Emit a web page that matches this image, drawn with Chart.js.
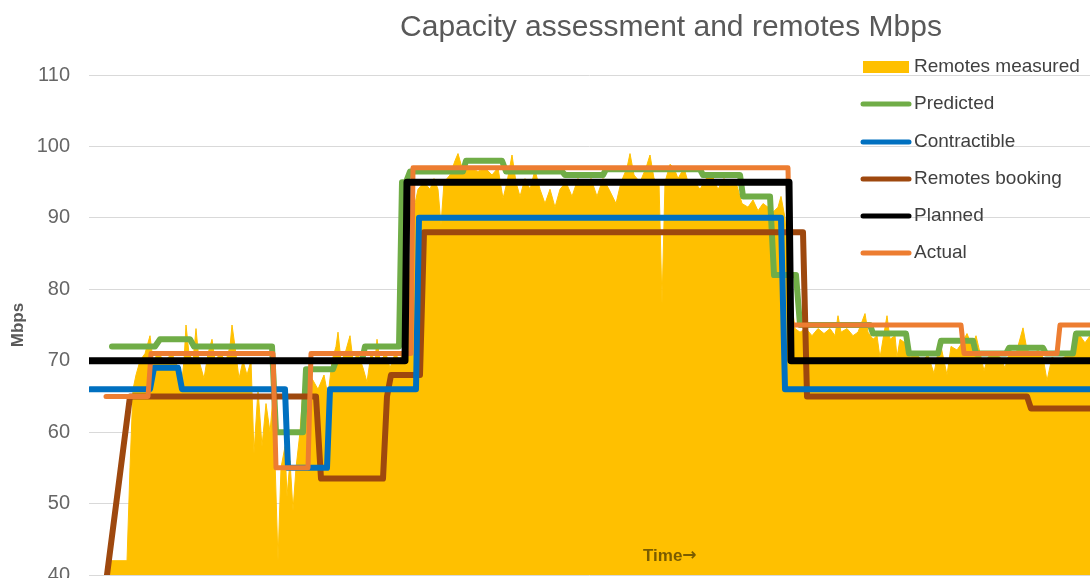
<!DOCTYPE html>
<html>
<head>
<meta charset="utf-8">
<script src="https://cdn.jsdelivr.net/npm/chart.js@4.4.1/dist/chart.umd.min.js"></script>
<style>
  html, body { margin: 0; padding: 0; background: #fff; overflow: hidden; }
  #wrap { position: relative; width: 1090px; height: 606px; }
</style>
</head>
<body>
<div id="wrap"><canvas id="cap"></canvas></div>
<script>
// Capacity assessment vs. measured remote traffic (Mbps) over time.
// Time runs 0..1001 (arbitrary sample index); step series are given as their corner points.
const TITLE = "Capacity assessment and remotes Mbps";
const Y_TICKS = {min: 40, max: 110, step: 10};

const measuredT = [21,38,41,44, 47,51,56,61,64,69,76,83,89,92,95,97,100,104,107,110,115,119,123,126,131,137,141,143,146,150,154,158,162,
  165,169,173,177,181,184, 186,189,192,196,198,201,204,207,211,214,
  217,223,229,235,239,243,247,249,252,256,261,264,269,274,278,282,286,288,291,297,301,306,311,315,
  318,323,329,335,341,345,349,352,355,361,366,369,373,381,389,396,403,409,414,418,423,427,431,436,441,446,451,456,461,466,471,477,483,489,
  496,502,508,514,520,527,532,538,541,545,551,557,561,565,570,573,576,581,585,589,595,600,606,611,617,623,629,635,641,647,653,659,664,669,
  674,679,684,689,692,696,
  701,706,711,717,723,729,735,741,746,749,752,758,764,769,776,779,784,788,791,794,798,801,806,808,811,816,821,827,833,839,845,848,852,858,
  862,868,873,878,883,887,892,895,899,905,911,916,921,927,934,938,944,949,954,958,963,969,975,981,986,991,996,1001];
const measuredMbps = [42,42,55,66, 68,70,71,73.5,70,71,70,71,69,66,70,75,71,70,74.5,70,67.5,71,73,70,71,70,72,75,72,67.5,70,68,70,
  57,66,58,64,60,65, 56,42,55,58,51,56,49,55,60,66,
  66,67.5,66,68,65,70,72,74,70,71,73.5,70,71,69,67,71,70,73,70,71,69,71,70,72,
  72,90,94,95,94,95.5,94,89,95,96,98,99,97,97,96.5,97,96,97,92.7,95,98.8,95,93,95.5,94,96.7,94,92,94,91.5,94,95,93,95.5,
  94.5,95.5,93,95.5,94,92,95,97,99,96,95,97,98.8,95.5,95,78,95,97.5,97,95.5,97,94.5,95,94,95.5,96,94,95.5,94.5,95,92,91.5,92.5,91,
  92,91.5,90.8,91.5,93,90,
  80,74.5,74,74.5,73.5,74.5,73.8,74.5,73.5,76.3,74,74.5,73.5,74,76.6,74,73,73.5,70.4,73,76.3,73,73.5,70.5,73,72.5,70.5,71,70,70.8,68.2,70.5,72,68,
  72,71.5,72.5,73.8,72,73.5,70.5,68.6,70.5,71,70.5,69,71.5,71,74.6,71.5,71,71.5,70.5,67.2,70.5,70,70.5,70.8,73,73.5,72.5,73.5];

const predictedT = [23,66,71,101,105,183,187,214,217,244,247,273,276,310,313,317,321,374,377,413,417,473,476,514,517,611,614,651,654,681,685,707,711,781,784,817,820,849,852,884,887,917,920,954,957,984,987,1001];
const predictedMbps = [72,72,73,73,72,72,60,60,68.8,68.8,70,70,72,72,95,95,96.5,96.5,98,98,96.5,96.5,96,96,96.8,96.8,96,96,93,93,82,82,75,75,73.8,73.8,71,71,72.8,72.8,71,71,71.8,71.8,71,71,73.8,73.8];

const contractibleT = [1,61,65,89,93,196,199,238,241,327,330,692,696,1001];
const contractibleMbps = [66,66,69,69,66,66,55,55,66,66,90,90,66,66];

const bookingT = [18,41,227,232,294,298,302,331,335,714,718,938,942,1001];
const bookingMbps = [40,65,65,53.5,53.5,65,68,68,88,88,65,65,63.3,63.3];

const plannedT = [1,316,318,700,702,1001];
const plannedMbps = [70,70,95,95,70,70];

const actualT = [17,59,62,184,187,219,222,322,324,699,702,872,875,968,971,1001];
const actualMbps = [65,65,71,71,55,55,71,71,97,97,75,75,71,71,75,75];

const COL = {measured: "#FFC000", predicted: "#70AD47", contractible: "#0070C0", booking: "#9E480E", planned: "#000000", actual: "#ED7D31"};
const FONT = "'Liberation Sans', Arial, sans-serif";

const pts = (t, v) => t.map((x, i) => ({x, y: v[i]}));
const step = (label, t, v, color, width, order) => ({
  label, data: pts(t, v), borderColor: color, backgroundColor: color, borderWidth: width,
  pointRadius: 0, tension: 0, fill: false, order, borderCapStyle: "round", borderJoinStyle: "round"
});

const datasets = [
  {label: "Remotes measured", data: pts(measuredT, measuredMbps), borderColor: COL.measured, backgroundColor: COL.measured,
   borderWidth: 1, pointRadius: 0, tension: 0, fill: "start", order: 5, legendBox: true},
  step("Predicted", predictedT, predictedMbps, COL.predicted, 6, 4),
  step("Contractible", contractibleT, contractibleMbps, COL.contractible, 6, 2),
  step("Remotes booking", bookingT, bookingMbps, COL.booking, 6, 3),
  step("Planned", plannedT, plannedMbps, COL.planned, 7, 0),
  step("Actual", actualT, actualMbps, COL.actual, 5, 1),
];

// title, in-plot legend and the "Time" caption are painted by hand so they can sit where they belong
const LEGEND_Y = [67, 104, 142, 179, 216, 253];
const overlay = {
  id: "overlay",
  afterDraw(chart) {
    const ctx = chart.ctx;
    ctx.save();
    ctx.textBaseline = "middle";

    ctx.fillStyle = "#595959";
    ctx.font = `30px ${FONT}`;
    ctx.textAlign = "center";
    ctx.fillText(TITLE, 671, 28);

    ctx.textAlign = "left";
    ctx.font = `19px ${FONT}`;
    chart.data.datasets.forEach((ds, i) => {
      const y = LEGEND_Y[i];
      if (ds.legendBox) {
        ctx.fillStyle = ds.backgroundColor;
        ctx.fillRect(863, y - 6, 46, 12);
      } else {
        ctx.strokeStyle = ds.borderColor;
        ctx.lineWidth = 5;
        ctx.lineCap = "round";
        ctx.beginPath(); ctx.moveTo(863, y); ctx.lineTo(909, y); ctx.stroke();
      }
      ctx.fillStyle = "#404040";
      ctx.fillText(ds.label, 914, y);
    });

    // x-axis caption sits inside the plot, above the baseline
    ctx.fillStyle = "#7a5c00";
    ctx.font = `bold 17px ${FONT}`;
    ctx.fillText("Time", 643, 556);
    const w = ctx.measureText("Time").width;
    ctx.font = "bold 17px 'DejaVu Sans', sans-serif";
    ctx.fillText("\u2192", 643 + w, 556);
    ctx.restore();
  }
};

new Chart(document.getElementById("cap"), {
  type: "line",
  data: {datasets},
  plugins: [overlay],
  options: {
    responsive: true, maintainAspectRatio: false, animation: false,
    layout: {padding: {top: 75, bottom: 26, left: 0, right: 0}},
    plugins: {legend: {display: false}, title: {display: false}, tooltip: {enabled: false}},
    scales: {
      x: {type: "linear", min: 0, max: 1001, display: false},
      y: {
        min: Y_TICKS.min, max: Y_TICKS.max,
        ticks: {stepSize: Y_TICKS.step, padding: 19, color: "#666666", font: {family: FONT, size: 20}},
        grid: {color: "#d9d9d9", lineWidth: 1, drawTicks: false},
        border: {display: false},
        title: {display: true, text: "Mbps", color: "#595959", font: {family: FONT, size: 17, weight: "bold"}, padding: {top: 8, bottom: 4}},
        afterFit(scale) { scale.width = 89; }
      }
    }
  }
});
</script>
</body>
</html>
